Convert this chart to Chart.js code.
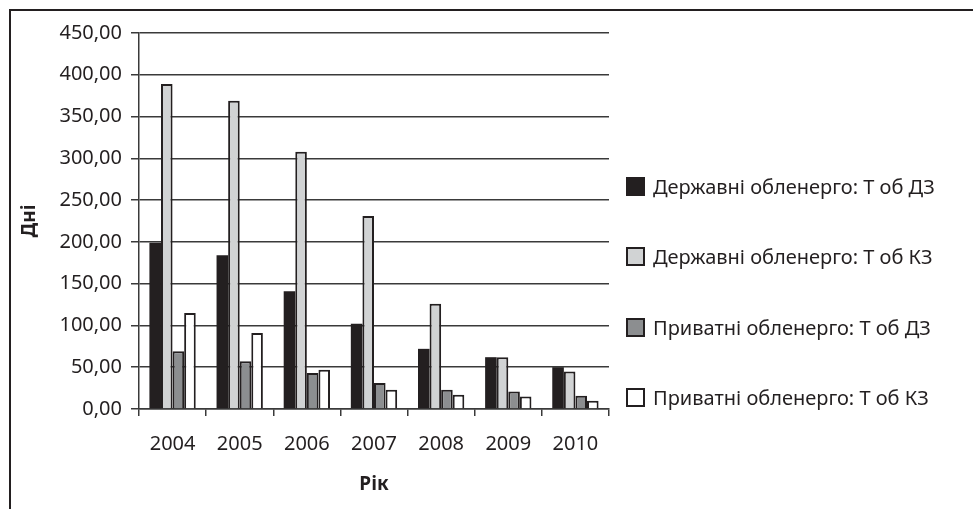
<!DOCTYPE html>
<html>
<head>
<meta charset="utf-8">
<script src="https://cdn.jsdelivr.net/npm/chart.js@4"></script>
<style>
    body { margin: 0; overflow: hidden; background: #fff; }
    #wrap { position: relative; width: 973px; height: 509px; overflow: hidden; }
    #frame { position: absolute; left: 9px; top: 9px; width: 1000px; height: 600px; border: 2px solid #231f20; }
    canvas { position: absolute; left: 0; top: 0; }
    #legend { position: absolute; left: 626px; top: 0; font-family: "Noto Sans", sans-serif; font-size: 20px; color: #231f20; }
    .item { position: absolute; left: 0; white-space: nowrap; display: flex; align-items: center; }
    .box { width: 15px; height: 15px; border: 2px solid #231f20; margin-right: 8px; }
</style>
</head>
<body>
<div id="wrap">
    <div id="frame"></div>
    <canvas id="chart" width="973" height="509"></canvas>
    <div id="legend"></div>
</div>
<script>
// Chart data
const years = ['2004', '2005', '2006', '2007', '2008', '2009', '2010'];
const seriesNames = [
    'Державні обленерго: Т об ДЗ',
    'Державні обленерго: Т об КЗ',
    'Приватні обленерго: Т об ДЗ',
    'Приватні обленерго: Т об КЗ'
];
const stateDZ = [199, 184, 141, 102, 72, 62, 50];
const stateKZ = [389, 369, 308, 231, 126, 62, 45];
const privateDZ = [69, 57, 43, 31, 23, 21, 16];
const privateKZ = [115, 91, 47, 23, 17, 15, 10];
const yTicks = [0, 50, 100, 150, 200, 250, 300, 350, 400, 450];

const colors = ['#231f20', '#d1d3d4', '#8c8e90', '#ffffff'];
const font = '"Noto Sans", sans-serif';

const datasets = [stateDZ, stateKZ, privateDZ, privateKZ].map((values, i) => ({
    label: seriesNames[i],
    data: values,
    backgroundColor: colors[i],
    borderColor: '#231f20',
    borderWidth: i === 0 ? 0 : 2,
    categoryPercentage: 0.69,
    barPercentage: 1
}));

const ctx = document.getElementById('chart').getContext('2d');
const chart = new Chart(ctx, {
    type: 'bar',
    data: { labels: years, datasets: datasets },
    options: {
        responsive: false,
        animation: false,
        layout: { padding: { left: 0, top: 33, right: 364, bottom: 0 } },
        plugins: {
            legend: { display: false },
            tooltip: { enabled: false }
        },
        scales: {
            x: {
                grid: { drawOnChartArea: false, color: '#3a3a3a', lineWidth: 1.5, tickLength: 7 },
                border: { color: '#3a3a3a', width: 1.5 },
                ticks: { color: '#231f20', font: { family: font, size: 20 }, padding: 16 },
                title: { display: true, text: 'Рік', color: '#231f20', font: { family: font, size: 19, weight: 'bold' }, padding: { top: 0, bottom: 13 } },
                afterFit: (scale) => { scale.height = 100; }
            },
            y: {
                min: 0,
                max: 450,
                afterBuildTicks: (scale) => { scale.ticks = yTicks.map(v => ({ value: v })); },
                grid: { color: '#3a3a3a', lineWidth: 1.5, tickLength: 8 },
                border: { color: '#3a3a3a', width: 1.5 },
                ticks: {
                    color: '#231f20',
                    font: { family: font, size: 20 },
                    padding: 9,
                    callback: (v) => v.toFixed(2).replace('.', ',')
                },
                title: { display: true, text: 'Дні', color: '#231f20', font: { family: font, size: 19, weight: 'bold' }, padding: { top: 18, bottom: 0 } },
                afterFit: (scale) => { scale.width = 139; }
            }
        }
    }
});

// Legend built from the datasets
const legendTops = [186, 256, 327, 397];
const legend = document.getElementById('legend');
datasets.forEach((ds, i) => {
    const item = document.createElement('div');
    item.className = 'item';
    item.style.top = (legendTops[i] - 14) + 'px';
    item.style.height = '28px';
    item.innerHTML = '<span class="box" style="background:' + ds.backgroundColor + '"></span><span>' + ds.label + '</span>';
    legend.appendChild(item);
});
</script>
</body>
</html>
